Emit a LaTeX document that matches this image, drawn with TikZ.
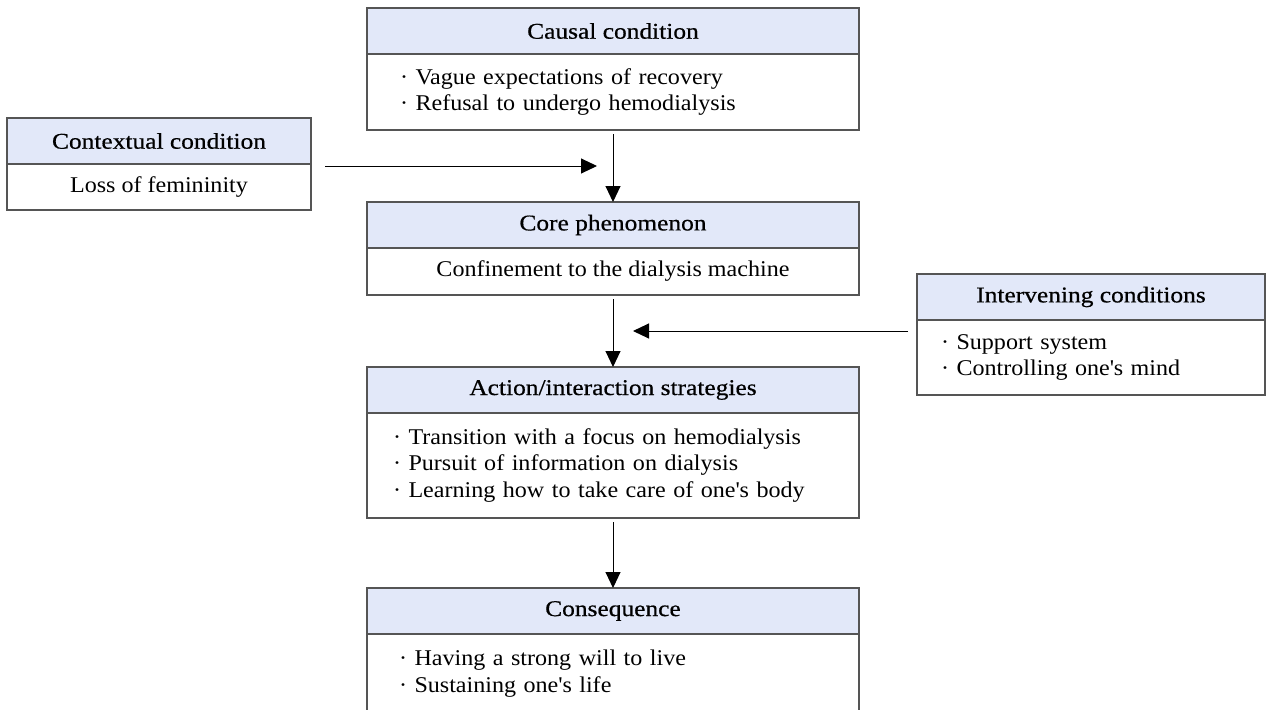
\documentclass[tikz,border=0pt]{standalone}
\usepackage{fontspec}
\setmainfont[FakeStretch=1.07]{Liberation Serif}
\newfontfamily\headfont[FakeStretch=1.13,FakeBold=0.6]{Liberation Serif}
\usepackage{xcolor}
\usetikzlibrary{arrows.meta,positioning,calc}

\definecolor{headfill}{RGB}{226,232,249}
\definecolor{boxline}{RGB}{85,85,85}

\tikzset{
  head/.style={draw=boxline, fill=headfill, line width=1.3pt, outer sep=0pt, inner sep=0pt,
    minimum height=46pt, font=\headfont\fontsize{22.5}{26.5}\selectfont},
  body/.style={draw=boxline, fill=white, line width=1.3pt, outer sep=0pt, inner sep=0pt,
    font=\fontsize{22.5}{26.5}\selectfont},
  flow/.style={-{Triangle[length=16pt,width=15pt]}, line width=1pt}
}

\begin{document}
\begin{tikzpicture}[x=1pt, y=-1pt]
  \useasboundingbox (0,0) rectangle (1273,709);
  \clip (0,0) rectangle (1273,709);

  % Causal condition
  \node[head, minimum width=492pt, anchor=north west] (causalHead) at (367,8) {Causal condition};
  \node[body, minimum height=76pt, text width=426pt, inner xsep=33pt, align=left, below=0pt of causalHead] (causalBody)
    {· Vague expectations of recovery\\ · Refusal to undergo hemodialysis};

  % Contextual condition
  \node[head, minimum width=304pt, anchor=north west] (ctxHead) at (7,118) {Contextual condition};
  \node[body, minimum width=304pt, minimum height=46pt, below=0pt of ctxHead] (ctxBody) {Loss of femininity};

  % Core phenomenon
  \node[head, minimum width=492pt, anchor=north west] (coreHead) at (367,202) {Core phenomenon};
  \node[body, minimum width=492pt, minimum height=47pt, below=0pt of coreHead] (coreBody)
    {Confinement to the dialysis machine};

  % Intervening conditions
  \node[head, minimum width=348pt, anchor=north west] (intHead) at (917,274) {Intervening conditions};
  \node[body, minimum height=75pt, text width=300pt, inner xsep=24pt, align=left, below=0pt of intHead] (intBody)
    {· Support system\\ · Controlling one\textquotesingle s mind};

  % Action/interaction strategies
  \node[head, minimum width=492pt, anchor=north west] (stratHead) at (367,367) {Action/interaction strategies};
  \node[body, minimum height=105pt, text width=440pt, inner xsep=26pt, align=left, below=0pt of stratHead] (stratBody)
    {· Transition with a focus on hemodialysis\\ · Pursuit of information on dialysis\\
     · Learning how to take care of one\textquotesingle s body};

  % Consequence (runs past the lower edge)
  \node[head, minimum width=492pt, anchor=north west] (consHead) at (367,588) {Consequence};
  \node[body, minimum height=79pt, text width=428pt, inner xsep=32pt, align=left, below=0pt of consHead] (consBody)
    {· Having a strong will to live\\ · Sustaining one\textquotesingle s life};

  % Arrows
  \coordinate (midTop) at ($(causalBody.south)!0.5!(coreHead.north)$);
  \coordinate (midLow) at ($(coreBody.south)!0.5!(stratHead.north)$);
  \draw[flow, shorten <=4pt] (causalBody.south) -- (coreHead.north);
  \draw[flow, shorten <=4pt] (coreBody.south) -- (stratHead.north);
  \draw[flow, shorten <=4pt] (stratBody.south) -- (consHead.north);
  \draw[flow, shorten <=14pt, shorten >=16pt] (ctxHead.east |- midTop) -- (midTop);
  \draw[flow, shorten <=9pt, shorten >=20pt] (intHead.west |- midLow) -- (midLow);
\end{tikzpicture}
\end{document}
